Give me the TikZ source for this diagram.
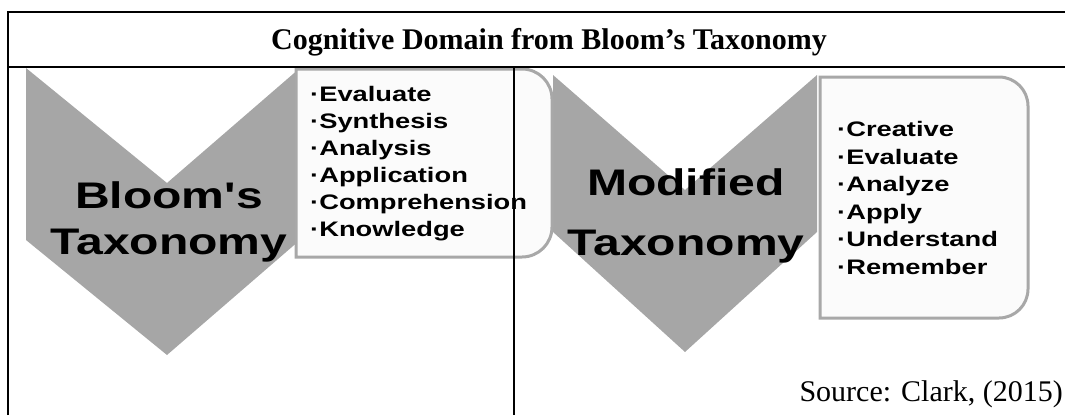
\documentclass[tikz,border=0pt]{standalone}
\usepackage{fontspec}
\setmainfont{Liberation Serif}
\newfontfamily\chartfont{Liberation Sans}[FakeStretch=1.3,Ligatures=TeXOff]
\usetikzlibrary{positioning}
\definecolor{ChevronGray}{RGB}{166,166,166}
\definecolor{BoxEdge}{RGB}{168,168,168}
\definecolor{BoxFill}{RGB}{251,251,251}
\tikzset{
  chevron/.style={fill=ChevronGray},
  listbox/.style={draw=BoxEdge,fill=BoxFill,line width=3pt},
  bigword/.style={font=\chartfont\bfseries\fontsize{37}{#1}\selectfont,align=center,inner sep=0pt},
  itemlist/.style={font=\chartfont\bfseries\fontsize{21}{#1}\selectfont,align=left,anchor=west,inner sep=0pt},
  tablerule/.style={line width=2pt}
}

\begin{document}
\begin{tikzpicture}[x=1pt,y=-1pt]
  \useasboundingbox (0,0) rectangle (1065,415);
  % the two chevrons
  \fill[chevron] (26,68) -- (167,183) -- (300,68) -- (300,240) -- (167,355) -- (26,240) -- cycle;
  \fill[chevron] (553,75) -- (685,190) -- (817,75) -- (817,232) -- (685,352) -- (553,232) -- cycle;
  % list boxes, rounded on the right
  \draw[listbox] (296,257) -- (296,69) -- (522,69) arc[start angle=-90,end angle=0,radius=30]
    -- (552,227) arc[start angle=0,end angle=90,radius=30] -- cycle;
  \draw[listbox] (820,318) -- (820,77) -- (999,77) arc[start angle=-90,end angle=0,radius=29]
    -- (1028,289) arc[start angle=0,end angle=90,radius=29] -- cycle;
  % labels
  \node[bigword=46] (bloom) at (169,222) {Bloom's\\Taxonomy};
  \node[bigword=60] (modified) at (686,216) {Modified\\Taxonomy};
  \node[itemlist=27] (bloomlist) at (310,164)
    {·Evaluate\\·Synthesis\\·Analysis\\·Application\\·Comprehension\\·Knowledge};
  \node[itemlist=27.5] (modlist) at (837,198)
    {·Creative\\·Evaluate\\·Analyze\\·Apply\\·Understand\\·Remember};
  \node[font=\bfseries\fontsize{30}{36}\selectfont] (title) at (549,42) {Cognitive Domain from Bloom's Taxonomy};
  \node[font=\fontsize{30}{36}\selectfont,anchor=east,inner sep=0pt] (source) at (1063,394) {Source: Clark, (2015)};
  % table rules
  \draw[tablerule] (8,415) -- (8,12) -- (1065,12);
  \draw[tablerule] (8,67) -- (1065,67);
  \draw[tablerule] (514,67) -- (514,415);
\end{tikzpicture}
\end{document}
